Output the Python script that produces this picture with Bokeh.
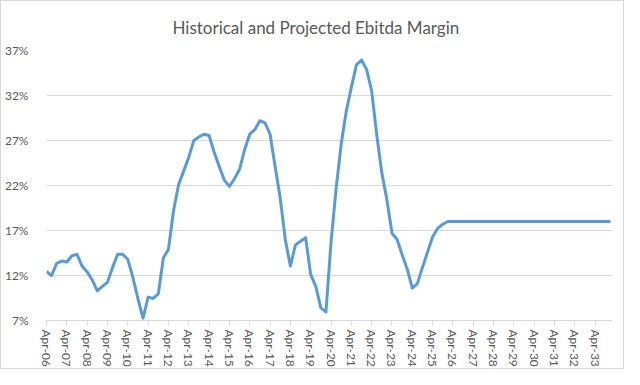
from bokeh.plotting import figure
from bokeh.models import Range1d, FixedTicker, PrintfTickFormatter, ColumnDataSource
from bokeh.embed import file_html
from bokeh.resources import INLINE

title_text = "Historical and Projected Ebitda Margin"

year_labels = ["Apr-06", "Apr-07", "Apr-08", "Apr-09", "Apr-10", "Apr-11", "Apr-12",
               "Apr-13", "Apr-14", "Apr-15", "Apr-16", "Apr-17", "Apr-18", "Apr-19",
               "Apr-20", "Apr-21", "Apr-22", "Apr-23", "Apr-24", "Apr-25", "Apr-26",
               "Apr-27", "Apr-28", "Apr-29", "Apr-30", "Apr-31", "Apr-32", "Apr-33"]

# quarterly EBITDA margin (%), starting Apr-06
margin_pct = [12.45, 12.0, 13.35, 13.6, 13.5, 14.2, 14.35, 13.05, 12.4, 11.5,
              10.3, 10.8, 11.25, 12.9, 14.35, 14.35, 13.8, 11.8, 9.4, 7.25,
              9.6, 9.45, 9.95, 13.95, 14.9, 19.2, 22.1, 23.6, 25.15, 27.0,
              27.4, 27.7, 27.55, 25.7, 24.1, 22.6, 21.9, 22.75, 23.8, 26.0,
              27.7, 28.2, 29.2, 28.95, 27.7, 24.1, 20.6, 16.0, 13.05, 15.4,
              15.8, 16.2, 12.1, 10.8, 8.4, 7.95, 15.7, 21.65, 26.6, 30.25,
              32.9, 35.4, 35.95, 34.9, 32.5, 27.6, 23.4, 20.4, 16.7, 16.0,
              14.3, 12.7, 10.6, 11.1, 12.9, 14.6, 16.3, 17.25, 17.7, 18.0,
              18.0, 18.0, 18.0, 18.0, 18.0, 18.0, 18.0, 18.0, 18.0, 18.0,
              18.0, 18.0, 18.0, 18.0, 18.0, 18.0, 18.0, 18.0, 18.0, 18.0,
              18.0, 18.0, 18.0, 18.0, 18.0, 18.0, 18.0, 18.0, 18.0, 18.0,
              18.0, 18.0]

y_ticks = [7, 12, 17, 22, 27, 32, 37]

quarters_per_year = 4
quarter_index = list(range(len(margin_pct)))
tick_positions = [k * quarters_per_year for k in range(len(year_labels))]

source = ColumnDataSource(data=dict(q=quarter_index, m=margin_pct))

p = figure(width=624, height=369, output_backend="svg", toolbar_location=None,
           x_range=Range1d(0, 111.4), y_range=Range1d(7, 37),
           min_border_left=42, min_border_right=13, min_border_top=45,
           min_border_bottom=50)

p.title.text = title_text
p.title.align = "left"
p.title.text_font = "Lato"
p.title.text_font_size = "17px"
p.title.text_font_style = "normal"
p.title.text_color = "#595959"
p.title.offset = 126
p.title.standoff = 26

p.outline_line_color = None
p.background_fill_color = "white"
p.border_fill_color = "white"
p.styles = {"border": "1px solid #D9D9D9", "box-sizing": "border-box"}

p.line("q", "m", source=source, line_color="#5B9BD5", line_width=3,
       line_join="round")

# y axis
p.yaxis.ticker = FixedTicker(ticks=y_ticks)
p.yaxis.formatter = PrintfTickFormatter(format="%d%%")
p.yaxis.axis_line_color = None
p.yaxis.major_tick_line_color = None
p.yaxis.minor_tick_line_color = None
p.yaxis.major_label_standoff = 12
p.yaxis.major_label_text_font = "Lato"
p.yaxis.major_label_text_font_size = "12px"
p.yaxis.major_label_text_color = "#595959"

# x axis
p.xaxis.ticker = FixedTicker(ticks=tick_positions)
p.xaxis.major_label_overrides = {t: lab for t, lab in zip(tick_positions, year_labels)}
p.xaxis.major_label_orientation = "vertical"
p.xaxis.axis_line_color = "#D9D9D9"
p.xaxis.major_tick_line_color = "#D9D9D9"
p.xaxis.major_tick_out = 5
p.xaxis.major_tick_in = 0
p.xaxis.minor_tick_line_color = None
p.xaxis.major_label_standoff = 4
p.xaxis.major_label_text_font = "Lato"
p.xaxis.major_label_text_font_size = "12px"
p.xaxis.major_label_text_color = "#595959"

p.xgrid.grid_line_color = None
p.ygrid.grid_line_color = "#D9D9D9"
p.ygrid.grid_line_width = 1
p.ygrid.ticker = FixedTicker(ticks=y_ticks)

open("out.html", "w").write(file_html(p, INLINE))
